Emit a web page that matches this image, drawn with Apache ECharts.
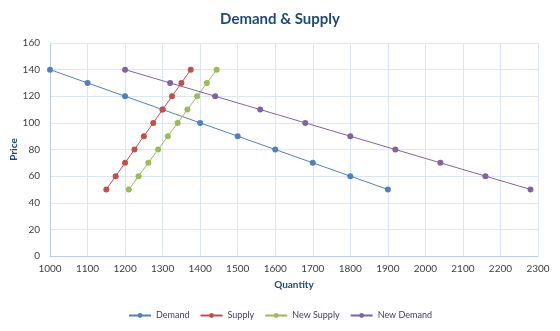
<!DOCTYPE html>
<html><head><meta charset="utf-8">
<script src="https://cdn.jsdelivr.net/npm/echarts@6/dist/echarts.min.js"></script>
<style>html,body{margin:0;padding:0;background:#fff}#c{width:560px;height:331px}</style>
</head><body><div id="c"></div>
<script>
const prices = [50,60,70,80,90,100,110,120,130,140];
const demandQty = [1900,1800,1700,1600,1500,1400,1300,1200,1100,1000];
const supplyQty = [1150,1175,1200,1225,1250,1275,1300,1325,1350,1375];
const newSupplyQty = [1210,1236,1262,1288,1314,1340,1366,1392,1418,1444];
const newDemandQty = [2280,2160,2040,1920,1800,1680,1560,1440,1320,1200];
const seriesNames = ['Demand','Supply','New Supply','New Demand'];
const colors = ['#4F81BD','#C0504D','#9BBB59','#8064A2'];
const qtySets = [demandQty, supplyQty, newSupplyQty, newDemandQty];
const F = 'Lato, "Open Sans", sans-serif';

const chart = echarts.init(document.getElementById('c'));
chart.setOption({
  animation:false,
  title:{text:'Demand & Supply',left:'center',top:7,textStyle:{fontFamily:F,fontSize:15,fontWeight:'bold',color:'#1F497D'}},
  grid:{left:50,right:22,top:43,bottom:75,containLabel:false,outerBoundsMode:'none'},
  legend:{bottom:6,left:'center',itemWidth:22,itemHeight:6,itemGap:10,
    textStyle:{fontFamily:F,fontSize:9,color:'#404060'},
    data:seriesNames},
  xAxis:{type:'value',min:1000,max:2300,interval:100,name:'Quantity',nameLocation:'middle',nameGap:24,
    nameMoveOverlap:false,
    nameTextStyle:{fontFamily:F,fontSize:10,fontWeight:'bold',color:'#1F497D'},
    axisLine:{lineStyle:{color:'#B9CDE5'}},axisTick:{show:false},
    axisLabel:{fontFamily:F,fontSize:10,color:'#404040',margin:8,formatter:v=>String(v)},
    splitLine:{lineStyle:{color:'#DCE6F2'}}},
  yAxis:{type:'value',min:0,max:160,interval:20,name:'Price',nameLocation:'middle',nameGap:31,
    nameMoveOverlap:false,
    nameTextStyle:{fontFamily:F,fontSize:10,fontWeight:'bold',color:'#1F497D'},
    axisLine:{show:true,lineStyle:{color:'#B9CDE5'}},axisTick:{show:false},
    axisLabel:{fontFamily:F,fontSize:10,color:'#404040',margin:10},
    splitLine:{lineStyle:{color:'#DCE6F2'}}},
  series: seriesNames.map((n,i)=>({
    name:n,type:'line',symbol:'circle',symbolSize:6,
    itemStyle:{color:colors[i]},lineStyle:{width:1,color:colors[i]},
    data: qtySets[i].map((q,j)=>[q,prices[j]])
  }))
});
</script></body></html>
